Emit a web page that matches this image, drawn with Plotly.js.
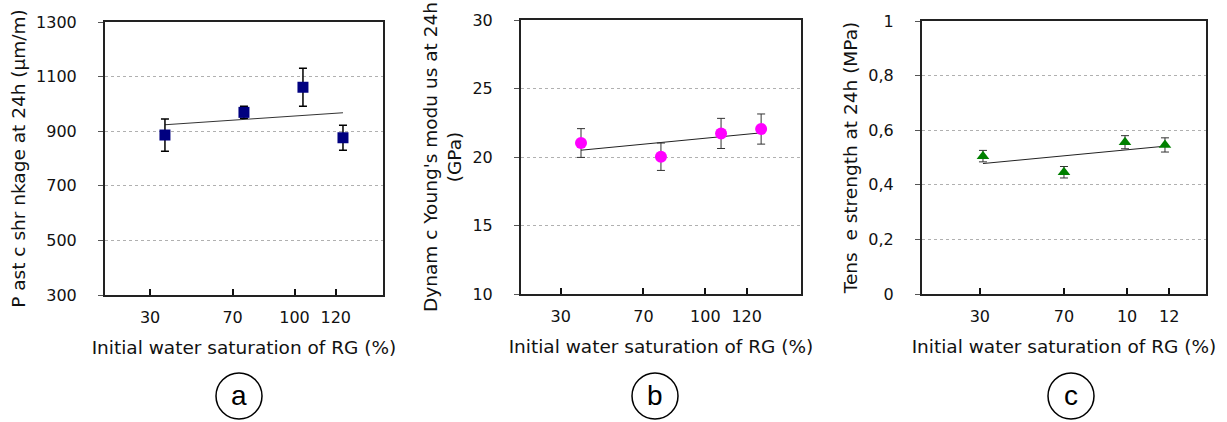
<!DOCTYPE html>
<html>
<head>
<meta charset="utf-8">
<script src="https://cdn.plot.ly/plotly-3.0.1.min.js"></script>
<style>html,body{margin:0;padding:0;background:#fff;}#chart{width:1227px;height:422px;}</style>
</head>
<body>
<div id="chart"></div>
<script>
// ---- data ----
const tickVals = [30, 70, 100, 120];
const tickTextAB = ["30", "70", "100", "120"];
const tickTextC = ["30", "70", "10", "12"];

const satA = [37.2, 75.5, 104.1, 123.5];
const shrinkage = [886, 969, 1061, 876];
const shrinkageErr = [59, 22, 70, 46];

const satB = [39.8, 78.5, 107.6, 127.0];
const modulus = [21.02, 20.02, 21.72, 22.04];
const modulusErr = [1.05, 1.0, 1.1, 1.1];

const satC = [31.5, 70.0, 99.0, 118.0];
const tensile = [0.505, 0.446, 0.556, 0.546];
const tensileErr = [0.021, 0.021, 0.024, 0.026];

const xTitle = "Initial water saturation of RG (%)";
const yTitleA = "P ast c shr nkage at 24h (µm/m)";
const yTitleB = "Dynam c Young's modu us at 24h<br>(GPa)";
const yTitleC = "Tens\u00a0 e strength at 24h (MPa)";
const panelLabels = ["a", "b", "c"];

// linear least-squares trend line over the data span
function trend(x, y) {
  const n = x.length;
  const mx = x.reduce((a, b) => a + b, 0) / n;
  const my = y.reduce((a, b) => a + b, 0) / n;
  let sxy = 0, sxx = 0;
  for (let i = 0; i < n; i++) { sxy += (x[i] - mx) * (y[i] - my); sxx += (x[i] - mx) ** 2; }
  const m = sxy / sxx, b = my - m * mx;
  const x0 = Math.min(...x), x1 = Math.max(...x);
  return { x: [x0, x1], y: [m * x0 + b, m * x1 + b] };
}

const W = 1227, H = 422;
const FONT = "DejaVu Sans, Arial, sans-serif";

const tA = trend(satA, shrinkage), tB = trend(satB, modulus), tC = trend(satC, tensile);

const traces = [
  { x: tA.x, y: tA.y, xaxis: 'x', yaxis: 'y', mode: 'lines', line: { color: '#333', width: 1 }, hoverinfo: 'skip' },
  { x: satA, y: shrinkage, xaxis: 'x', yaxis: 'y', mode: 'markers', type: 'scatter',
    marker: { symbol: 'square', size: 11, color: '#000080' },
    error_y: { type: 'data', array: shrinkageErr, visible: true, color: '#000', thickness: 1.5, width: 4 } },

  { x: tB.x, y: tB.y, xaxis: 'x2', yaxis: 'y2', mode: 'lines', line: { color: '#222', width: 1 }, hoverinfo: 'skip' },
  { x: satB, y: modulus, xaxis: 'x2', yaxis: 'y2', mode: 'markers', type: 'scatter',
    marker: { symbol: 'circle', size: 12, color: '#ff00ff' },
    error_y: { type: 'data', array: modulusErr, visible: true, color: '#333', thickness: 1, width: 4 } },

  { x: tC.x, y: tC.y, xaxis: 'x3', yaxis: 'y3', mode: 'lines', line: { color: '#222', width: 1 }, hoverinfo: 'skip' },
  { x: satC, y: tensile, xaxis: 'x3', yaxis: 'y3', mode: 'markers', type: 'scatter',
    marker: { symbol: 'triangle-up', size: 11, color: '#008000' },
    error_y: { type: 'data', array: tensileErr, visible: true, color: '#333', thickness: 1, width: 4 } }
];

function xAxis(dom, range, anchor, texts) {
  return {
    domain: dom, range: range, anchor: anchor,
    tickmode: 'array', tickvals: tickVals, ticktext: texts,
    ticks: 'inside', ticklen: 6, tickwidth: 2, tickcolor: '#111',
    showline: true, linecolor: '#222', linewidth: 2, mirror: true,
    showgrid: false, zeroline: false,
    tickfont: { family: FONT, size: 16, color: '#111' },
    ticklabelstandoff: 7,
    title: { text: xTitle, font: { family: FONT, size: 18.5, color: '#111' }, standoff: 15 }
  };
}
function yAxis(dom, range, dtick, anchor, title, fmt, standoff) {
  return {
    domain: dom, range: range, anchor: anchor, dtick: dtick, tick0: range[0],
    ticks: 'outside', ticklen: 5, tickwidth: 1, tickcolor: '#555',
    showline: true, linecolor: '#222', linewidth: 2, mirror: true,
    showgrid: true, gridcolor: '#b0b0b0', griddash: 'dot', gridwidth: 1,
    zeroline: false,
    tickformat: fmt,
    tickfont: { family: FONT, size: 16, color: '#111' },
    ticklabelstandoff: 18,
    title: { text: title, font: { family: FONT, size: 18.5, color: '#111' }, standoff: standoff }
  };
}

const dA = [105 / W, 383 / W], dB = [521 / W, 801 / W], dC = [922 / W, 1206 / W];
const vA = [1 - 295 / H, 1 - 22 / H], vB = [1 - 294 / H, 1 - 20 / H], vC = [1 - 294 / H, 1 - 21 / H];

const circles = [[216, 262], [632, 678], [1048, 1094]];
const shapes = circles.map(c => ({
  type: 'circle', xref: 'paper', yref: 'paper',
  x0: c[0] / W, x1: c[1] / W, y0: 1 - 419 / H, y1: 1 - 373 / H,
  line: { color: '#000', width: 1.5 }
}));
const annotations = circles.map((c, i) => ({
  xref: 'paper', yref: 'paper', x: (c[0] + c[1]) / 2 / W, y: 1 - 395 / H,
  text: panelLabels[i], showarrow: false, xanchor: 'center', yanchor: 'middle',
  font: { family: 'Liberation Sans, Arial, sans-serif', size: 28, color: '#000' }
}));

const layout = {
  width: W, height: H,
  margin: { l: 0, r: 0, t: 0, b: 0 },
  paper_bgcolor: '#fff', plot_bgcolor: '#fff',
  showlegend: false,
  separators: ',.',
  xaxis: xAxis(dA, [8.14, 142.9], 'y', tickTextAB),
  yaxis: yAxis(vA, [300, 1300], 200, 'x', yTitleA, 'd', 6),
  xaxis2: xAxis(dB, [10.75, 146.3], 'y2', tickTextAB),
  yaxis2: yAxis(vB, [10, 30], 5, 'x2', yTitleB, 'd', 6),
  xaxis3: xAxis(dC, [2.52, 137.5], 'y3', tickTextC),
  yaxis3: yAxis(vC, [0, 1], 0.2, 'x3', yTitleC, '', 6),
  shapes: shapes,
  annotations: annotations
};

Plotly.newPlot('chart', traces, layout, { staticPlot: true, displayModeBar: false });
</script>
</body>
</html>
